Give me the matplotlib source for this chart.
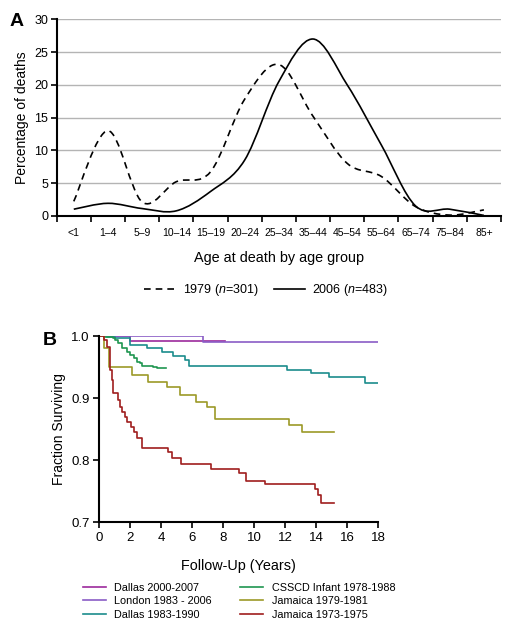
import matplotlib
matplotlib.use('Agg')
import matplotlib.pyplot as plt
from matplotlib.path import Path
from matplotlib.patches import PathPatch
from matplotlib.lines import Line2D

plt.rcParams['font.family'] = ['Liberation Sans', 'DejaVu Sans']
plt.rcParams['mathtext.fontset'] = 'custom'
plt.rcParams['mathtext.rm'] = 'Liberation Sans'
plt.rcParams['mathtext.it'] = 'Liberation Sans:italic'

# ---- panel A data: % of deaths by age group ----
age_groups = ['<1', '1–4', '5–9', '10–14', '15–19', '20–24', '25–34',
              '35–44', '45–54', '55–64', '65–74', '75–84', '85+']
pct_1979 = [2.2, 13.0, 2.1, 5.2, 6.7, 17.8, 23.1, 15.2, 8.0, 6.0, 1.4, 0.1, 0.9]
pct_2006 = [1.0, 1.9, 1.1, 0.75, 3.7, 8.5, 20.5, 27.0, 20.0, 10.8, 1.5, 1.0, 0.05]

# ---- panel B data: Kaplan-Meier step curves (years, fraction surviving) ----
dallas00_t = [0, 1.95, 8.1]
dallas00_s = [1.0, 0.9925, 0.9925]
london_t = [0, 6.7, 18.0]
london_s = [1.0, 0.991, 0.991]
dallas83_t = [0, 0.5, 1.0, 1.98, 3.06, 4.02, 4.77, 5.53, 5.81, 12.13, 13.66, 14.84, 17.14, 18.0]
dallas83_s = [1.0, 0.998, 0.996, 0.9855, 0.980, 0.975, 0.968, 0.962, 0.952, 0.946, 0.940, 0.934, 0.925, 0.925]
csscd_t = [0, 0.3, 0.9, 1.01, 1.23, 1.44, 1.77, 1.98, 2.26, 2.41, 2.63, 2.73, 3.48, 3.7, 4.3]
csscd_s = [1.0, 0.998, 0.996, 0.9935, 0.988, 0.980, 0.975, 0.969, 0.964, 0.9585, 0.956, 0.952, 0.9505, 0.948, 0.948]
jam79_t = [0, 0.27, 0.62, 2.09, 3.16, 4.35, 5.2, 6.24, 6.93, 7.46, 12.26, 13.06, 15.16]
jam79_s = [1.0, 0.980, 0.9495, 0.937, 0.926, 0.917, 0.905, 0.894, 0.886, 0.866, 0.856, 0.846, 0.846]
jam73_t = [0, 0.30, 0.47, 0.69, 0.8, 0.9, 1.23, 1.34, 1.49, 1.66, 1.81, 2.02, 2.26, 2.41, 2.73,
           4.45, 4.67, 5.3, 7.19, 9.01, 9.46, 10.7, 13.92, 14.13, 14.3, 15.16]
jam73_s = [1.0, 0.9935, 0.983, 0.945, 0.929, 0.9075, 0.897, 0.886, 0.878, 0.870, 0.862, 0.854, 0.846, 0.835, 0.820,
           0.813, 0.804, 0.793, 0.785, 0.779, 0.766, 0.761, 0.753, 0.744, 0.730, 0.730]

series_b = [
    ('Dallas 2000-2007', dallas00_t, dallas00_s, '#9c2a9c'),
    ('London 1983 - 2006', london_t, london_s, '#8a5cc6'),
    ('Dallas 1983-1990', dallas83_t, dallas83_s, '#1b8c8c'),
    ('CSSCD Infant 1978-1988', csscd_t, csscd_s, '#1f9650'),
    ('Jamaica 1979-1981', jam79_t, jam79_s, '#9c9a28'),
    ('Jamaica 1973-1975', jam73_t, jam73_s, '#a01e1e'),
]


def smooth_path(xs, ys):
    # catmull-rom style smoothing, drawn as bezier segments (like excel "smoothed line")
    verts = [(xs[0], ys[0])]
    codes = [Path.MOVETO]
    n = len(xs)
    for i in range(n - 1):
        a = i - 1 if i > 0 else i
        d = i + 2 if i + 2 < n else i + 1
        c1 = (xs[i] + (xs[i + 1] - xs[a]) / 6, ys[i] + (ys[i + 1] - ys[a]) / 6)
        c2 = (xs[i + 1] - (xs[d] - xs[i]) / 6, ys[i + 1] - (ys[d] - ys[i]) / 6)
        verts += [c1, c2, (xs[i + 1], ys[i + 1])]
        codes += [Path.CURVE4] * 3
    return Path(verts, codes)


fig = plt.figure(figsize=(5.12, 6.29), dpi=100)

# ================= panel A =================
axA = fig.add_axes([0.1107, 0.657, 0.8678, 0.3122])
xc = [i + 0.5 for i in range(len(age_groups))]
for vals, ls in [(pct_1979, (0, (4, 3))), (pct_2006, '-')]:
    axA.add_patch(PathPatch(smooth_path(xc, vals), fill=False, ec='black', lw=1.2, ls=ls,
                            capstyle='butt', zorder=3))
axA.set_xlim(0, len(age_groups))
axA.set_ylim(0, 30)
axA.set_yticks(range(0, 31, 5))
axA.yaxis.grid(True, color='#b4b4b4', lw=1.0)
axA.set_axisbelow(True)
axA.set_xticks(range(len(age_groups) + 1))
axA.set_xticklabels([])
axA.set_xticks(xc, minor=True)
axA.set_xticklabels(age_groups, minor=True, fontsize=7.5)
axA.tick_params(axis='x', which='minor', length=0, pad=9)
axA.tick_params(axis='x', which='major', length=4, width=1.2, direction='out')
axA.tick_params(axis='y', length=4, width=1.2, labelsize=9, pad=2)
for s in ['top', 'right']:
    axA.spines[s].set_visible(False)
for s in ['left', 'bottom']:
    axA.spines[s].set_linewidth(1.5)
axA.set_ylabel('Percentage of deaths', fontsize=10, labelpad=4)
axA.set_xlabel('Age at death by age group', fontsize=10.4, labelpad=9)
fig.text(0.018, 1 - 26 / 629, 'A', fontsize=14, fontweight='bold')

legA = [Line2D([], [], color='black', lw=1.2, ls=(0, (4, 3))),
        Line2D([], [], color='black', lw=1.2, ls='-')]
fig.legend(legA, ['1979 ($n$=301)', '2006 ($n$=483)'], loc='center',
           bbox_to_anchor=(0.52, 1 - 290 / 629), ncol=2, frameon=False, fontsize=9,
           handlelength=2.5, handletextpad=0.6, columnspacing=1.2)

# ================= panel B =================
axB = fig.add_axes([0.194, 0.170, 0.545, 0.2958])
for label, t, s, c in series_b:
    axB.step(t, s, where='post', color=c, lw=1.2, label=label)
axB.set_xlim(0, 18)
axB.set_ylim(0.7, 1.0)
axB.set_xticks(range(0, 19, 2))
axB.set_yticks([0.7, 0.8, 0.9, 1.0])
axB.tick_params(length=4, width=1.2, labelsize=9.5, pad=3)
for s in ['top', 'right']:
    axB.spines[s].set_visible(False)
for s in ['left', 'bottom']:
    axB.spines[s].set_linewidth(1.5)
axB.set_ylabel('Fraction Surviving', fontsize=10, labelpad=4)
axB.set_xlabel('Follow-Up (Years)', fontsize=10.4, labelpad=11)
fig.text(0.083, 1 - 345 / 629, 'B', fontsize=14, fontweight='bold')

fig.legend(*axB.get_legend_handles_labels(), loc='upper left',
           bbox_to_anchor=(83 / 512, 1 - 583 / 629), ncol=2, frameon=False, fontsize=7.8,
           handlelength=2.1, handletextpad=0.8, columnspacing=2.6, labelspacing=0.3,
           borderpad=0, borderaxespad=0)

fig.savefig('out.png', dpi=100)
